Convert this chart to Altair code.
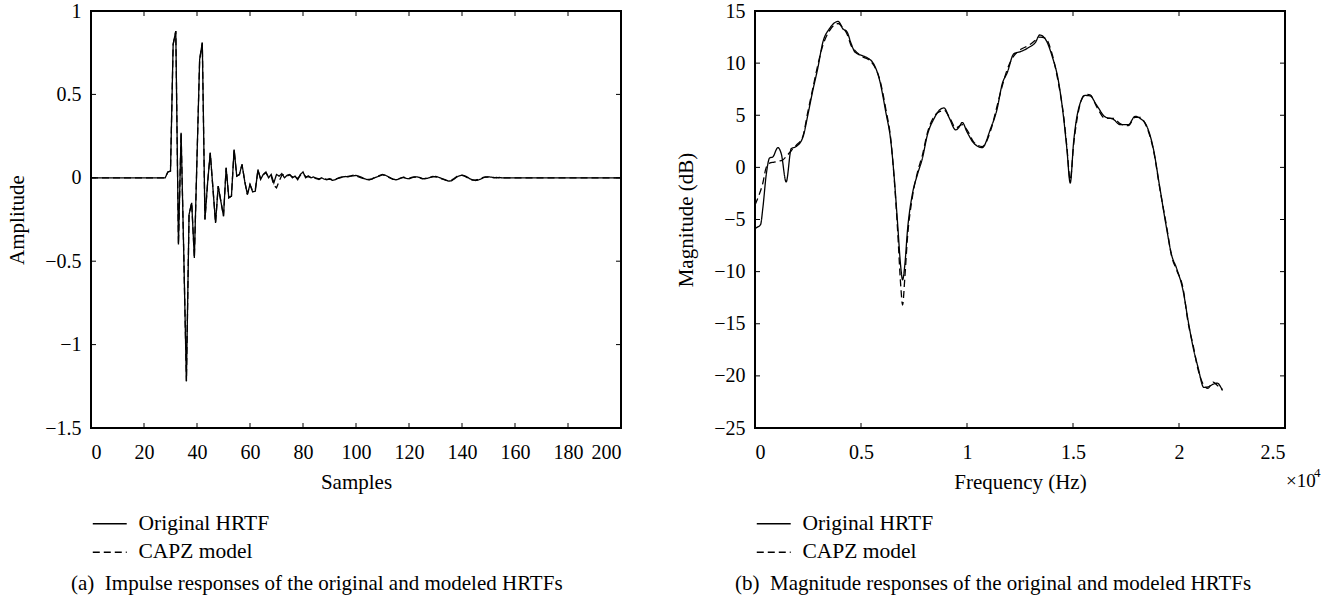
import altair as alt
import pandas as pd

FONT = "Liberation Serif"
W, H = 530, 417

# ---------------- (a) impulse responses ----------------
imp_orig = [0.0] * 28 + [
    0.0, 0.035, 0.04, 0.80, 0.88, -0.40, 0.27, -0.45, -1.22, -0.22,   # 28-37
    -0.15, -0.48, 0.12, 0.71, 0.81, -0.25, -0.03, 0.15, -0.06, -0.27,  # 38-47
    -0.05, -0.14, -0.23, 0.06, -0.12, -0.11, 0.17, 0.01, 0.02, 0.08,   # 48-57
    -0.02, -0.10, -0.04, -0.085, -0.08, 0.05, -0.01, 0.02, 0.035, 0.0,  # 58-67
    0.02, -0.03, 0.02, 0.01, 0.025, 0.0, 0.015, 0.02, 0.0, 0.01,        # 68-77
    -0.012, 0.02, 0.035, 0.0, 0.012, 0.0, 0.005, -0.005, -0.01, 0.0,    # 78-87
    -0.008, -0.012, -0.005, -0.015, -0.012, -0.005, 0.0, 0.005, 0.008, 0.006,  # 88-97
    0.01, 0.012, 0.014, 0.01, 0.004, -0.004, -0.01, -0.012, -0.008, 0.0,  # 98-107
    0.006, 0.012, 0.018, 0.016, 0.008, 0.0, -0.008, -0.012, -0.008, -0.002,  # 108-117
    0.002, -0.004, -0.006, 0.0, 0.004, 0.006, 0.002, -0.004, -0.006, -0.003,  # 118-127
    0.002, 0.006, 0.008, 0.004, -0.002, -0.008, -0.014, -0.02, -0.018, -0.008,  # 128-137
    0.004, 0.012, 0.016, 0.012, 0.004, -0.006, -0.012, -0.016, -0.014, -0.008,  # 138-147
    0.0, 0.004, 0.006, 0.004, 0.002, 0.0, 0.002, 0.0,                    # 148-155
] + [0.0] * 45

imp_model_tail = [
    -0.04, -0.08, -0.07, 0.045, -0.005, 0.018, 0.03, 0.005, 0.01, -0.045,  # 60-69
    -0.06, -0.02, 0.015, 0.02, 0.01, 0.018, 0.005, 0.012, -0.005, 0.015,   # 70-79
    0.025, 0.008, 0.006, 0.004, 0.0, -0.002, -0.006, -0.003, -0.006, -0.009,  # 80-89
    -0.008, -0.01, -0.009, -0.004, 0.002, 0.006, 0.006, 0.009, 0.012, 0.016,  # 90-99
    0.012, 0.006, 0.0, -0.006, -0.008, -0.01, -0.006, 0.002, 0.008, 0.014,   # 100-109
    0.02, 0.014, 0.005, -0.002, -0.01, -0.01, -0.006, 0.0, 0.004, -0.002,    # 110-119
    -0.004, 0.002, 0.006, 0.004, 0.0, -0.006, -0.004, 0.0, 0.004, 0.008,     # 120-129
    0.006, 0.002, -0.004, -0.01, -0.016, -0.018, -0.014, -0.004, 0.008, 0.014,  # 130-139
    0.014, 0.01, 0.0, -0.008, -0.014, -0.014, -0.01, -0.004, 0.002, 0.006,   # 140-149
    0.004, 0.002, 0.0, 0.002, 0.0, 0.0,                                      # 150-155
]
imp_model = imp_orig[:60] + imp_model_tail + [0.0] * 45

samples = list(range(201))
SERIES = ["Original HRTF", "CAPZ model"]

# ---------------- (b) magnitude responses ----------------
freq_orig_khz = [0.0, 0.06, 0.26, 0.37, 0.53, 0.69, 0.84, 1.08, 1.24, 1.47, 1.71, 1.94,
                 2.26, 2.49, 2.73, 2.96, 3.2, 3.51, 3.93, 4.14, 4.34, 4.53, 4.72, 5.08,
                 5.31, 5.63, 5.86, 6.17, 6.41, 6.57, 6.72, 6.88, 6.96, 7.07, 7.19, 7.42,
                 7.66, 7.9, 8.13, 8.45, 8.76, 8.92, 9.15, 9.47, 9.6, 9.78, 10.0, 10.33,
                 10.72, 11.11, 11.42, 11.66, 11.9, 12.21, 12.52, 12.91, 13.23, 13.43, 13.7,
                 14.01, 14.32, 14.56, 14.71, 14.87, 15.03, 15.26, 15.58, 15.81, 16.12, 16.52,
                 16.91, 17.22, 17.61, 17.93, 18.16, 18.47, 18.79, 19.1, 19.41, 19.65, 19.88,
                 20.2, 20.43, 20.67, 20.9, 21.17, 21.37, 21.61, 21.8, 22.05]
mag_orig_db = [-5.9, -5.8, -5.5, -3.9, -0.7, 0.9, 1.0, 1.9, 1.3, -1.4, 1.8, 2.0,
               2.9, 5.0, 7.4, 9.5, 12.0, 13.3, 14.0, 13.3, 13.0, 11.9, 11.05, 10.7,
               10.5, 9.8, 8.5, 5.3, 2.45, -1.05, -5.2, -9.65, -10.8, -9.3, -6.1, -2.6,
               -0.7, 0.9, 3.1, 4.7, 5.6, 5.7, 4.8, 3.6, 3.8, 4.3, 3.4, 2.3,
               1.9, 3.7, 5.6, 8.0, 9.1, 10.9, 11.1, 11.5, 12.0, 12.7, 12.3,
               10.7, 8.2, 4.7, 1.8, -1.5, 2.45, 5.6, 6.9, 6.85, 5.95, 4.84,
               4.6, 4.1, 4.1, 4.9, 4.7, 4.0, 1.8, -2.0, -5.8, -8.4, -9.65,
               -11.9, -14.7, -17.3, -19.2, -21.1, -21.05, -20.8, -20.7, -21.4]

freq_model_khz = [0.0, 0.2, 0.37, 0.53, 0.69, 0.9, 1.1, 1.3, 1.5, 1.71, 1.94,
                  2.26, 2.49, 2.73, 2.96, 3.2, 3.51, 3.93, 4.14, 4.34, 4.53, 4.72, 5.08,
                  5.31, 5.63, 5.86, 6.17, 6.41, 6.57, 6.72, 6.88, 6.96, 7.07, 7.19, 7.42,
                  7.66, 7.9, 8.13, 8.45, 8.76, 8.92, 9.15, 9.47, 9.78, 10.0, 10.33,
                  10.72, 11.11, 11.42, 11.66, 11.9, 12.21, 12.52, 12.91, 13.23, 13.43, 13.7,
                  14.01, 14.32, 14.56, 14.71, 14.87, 15.03, 15.26, 15.58, 15.81, 16.12, 16.52,
                  16.91, 17.22, 17.61, 17.93, 18.16, 18.47, 18.79, 19.1, 19.41, 19.65, 19.88,
                  20.2, 20.43, 20.67, 20.9, 21.17, 21.37, 21.61, 21.8, 22.05]
mag_model_db = [-3.6, -2.6, -1.5, 0.0, 0.4, 0.5, 0.6, 0.7, 1.1, 1.6, 2.1,
                3.0, 5.3, 7.6, 9.8, 11.7, 13.1, 13.8, 13.4, 12.8, 11.7, 11.2, 10.6,
                10.4, 9.7, 8.6, 5.6, 2.6, -1.2, -5.8, -11.5, -13.2, -10.5, -6.8, -2.9,
                -0.5, 1.2, 3.3, 4.9, 5.4, 5.5, 4.9, 3.8, 4.1, 3.6, 2.4,
                2.0, 3.5, 5.9, 7.8, 9.4, 10.7, 11.3, 11.7, 12.2, 12.5, 12.4,
                10.9, 8.0, 4.9, 2.0, -1.2, 2.2, 5.4, 7.0, 6.95, 5.8, 4.7,
                4.7, 4.2, 4.0, 4.8, 4.8, 3.9, 1.7, -2.1, -5.6, -8.5, -9.8,
                -11.7, -14.9, -17.1, -19.4, -20.9, -21.2, -20.6, -20.9, -21.3]

x_ticks_a = [0, 20, 40, 60, 80, 100, 120, 140, 160, 180, 200]
y_ticks_a = [-1.5, -1, -0.5, 0, 0.5, 1]
x_ticks_b = [0, 5000, 10000, 15000, 20000, 25000]
y_ticks_b = [-25, -20, -15, -10, -5, 0, 5, 10, 15]

cap_a = "(a)\u00a0\u00a0Impulse responses of the original and modeled HRTFs"
cap_b = "(b)\u00a0\u00a0Magnitude responses of the original and modeled HRTFs"

# ---------------- tables ----------------
imp_df = pd.concat([
    pd.DataFrame({"sample": samples, "value": imp_orig, "series": SERIES[0]}),
    pd.DataFrame({"sample": samples, "value": imp_model, "series": SERIES[1]}),
])
mag_df = pd.concat([
    pd.DataFrame({"freq": [f * 1000 for f in freq_orig_khz], "db": mag_orig_db,
                  "series": SERIES[0]}),
    pd.DataFrame({"freq": [f * 1000 for f in freq_model_khz], "db": mag_model_db,
                  "series": SERIES[1]}),
])

dash_scale = alt.Scale(domain=SERIES, range=[[1, 0], [7, 4]])
# custom horizontal-line symbol: unit = sqrt(size)/2 = 5.66 px -> line of 34 px
legend = alt.Legend(
    title=None, orient="none", legendX=8, legendY=H + 85,
    symbolType="M-3,0H3", symbolSize=128, symbolStrokeWidth=1.3,
    symbolStrokeColor="black", symbolFillColor="transparent",
    labelFont=FONT, labelFontSize=21.5,
    labelColor="black", labelOffset=18, rowPadding=5.5, padding=0,
    direction="vertical",
)

TICK = 5
NUM = "format(datum.value, '')"


def panel(df, xf, yf, xdom, ydom, xticks, yticks, xtitle, ytitle, caption,
          xlabel_expr=NUM, interp="linear"):
    xenc = alt.X(f"{xf}:Q", scale=alt.Scale(domain=xdom, nice=False, zero=False),
                 axis=alt.Axis(values=xticks, title=xtitle, labelPadding=14,
                               titlePadding=9, labelExpr=xlabel_expr))
    yenc = alt.Y(f"{yf}:Q", scale=alt.Scale(domain=ydom, nice=False, zero=False),
                 axis=alt.Axis(values=yticks, title=ytitle, labelPadding=10,
                               titlePadding=17, labelExpr=NUM))
    lines = alt.Chart(df).mark_line(color="black", strokeWidth=1.3,
                                    interpolate=interp).encode(
        x=xenc, y=yenc,
        strokeDash=alt.StrokeDash("series:N", scale=dash_scale, legend=legend),
        detail="series:N",
    )
    xt = pd.DataFrame({xf: xticks})
    yt = pd.DataFrame({yf: yticks})
    tb = alt.Chart(xt).mark_rule(color="black", strokeWidth=1).encode(
        x=f"{xf}:Q", y=alt.value(H), y2=alt.value(H - TICK))
    tt = alt.Chart(xt).mark_rule(color="black", strokeWidth=1).encode(
        x=f"{xf}:Q", y=alt.value(0), y2=alt.value(TICK))
    tl = alt.Chart(yt).mark_rule(color="black", strokeWidth=1).encode(
        y=f"{yf}:Q", x=alt.value(0), x2=alt.value(TICK))
    tr = alt.Chart(yt).mark_rule(color="black", strokeWidth=1).encode(
        y=f"{yf}:Q", x=alt.value(W), x2=alt.value(W - TICK))
    cap = alt.Chart(pd.DataFrame({"c": [caption]})).mark_text(
        align="left", baseline="middle", font=FONT, fontSize=21, color="black"
    ).encode(text="c:N", x=alt.value(-20), y=alt.value(H + 156))
    return [lines, tb, tt, tl, tr, cap]


left_layers = panel(imp_df, "sample", "value", [0, 200], [-1.5, 1], x_ticks_a, y_ticks_a,
                    "Samples", "Amplitude", cap_a)
right_layers = panel(mag_df, "freq", "db", [0, 25000], [-25, 15], x_ticks_b, y_ticks_b,
                     "Frequency (Hz)", "Magnitude (dB)", cap_b,
                     xlabel_expr="format(datum.value / 10000, '')", interp="monotone")

exp_main = alt.Chart(pd.DataFrame({"t": ["\u00d710"]})).mark_text(
    align="left", baseline="middle", font=FONT, fontSize=19, color="black"
).encode(text="t:N", x=alt.value(W + 1), y=alt.value(H + 53))
exp_sup = alt.Chart(pd.DataFrame({"t": ["4"]})).mark_text(
    align="left", baseline="middle", font=FONT, fontSize=13, color="black"
).encode(text="t:N", x=alt.value(W + 29), y=alt.value(H + 45))

left = alt.layer(*left_layers).properties(width=W, height=H)
right = alt.layer(*right_layers, exp_main, exp_sup).properties(width=W, height=H)

chart = alt.hconcat(left, right, spacing=49).resolve_scale(
    strokeDash="independent"
).resolve_legend(strokeDash="independent").properties(
    padding={"left": 5, "top": 0, "right": 0, "bottom": 0},
    background="white",
).configure_view(stroke="black", strokeWidth=2).configure_axis(
    domain=False, ticks=False, grid=False,
    labelFont=FONT, labelFontSize=20, labelColor="black",
    titleFont=FONT, titleFontSize=21, titleFontWeight="normal", titleColor="black",
)

chart.save("out.html", embed_options={"renderer": "svg", "actions": False})
